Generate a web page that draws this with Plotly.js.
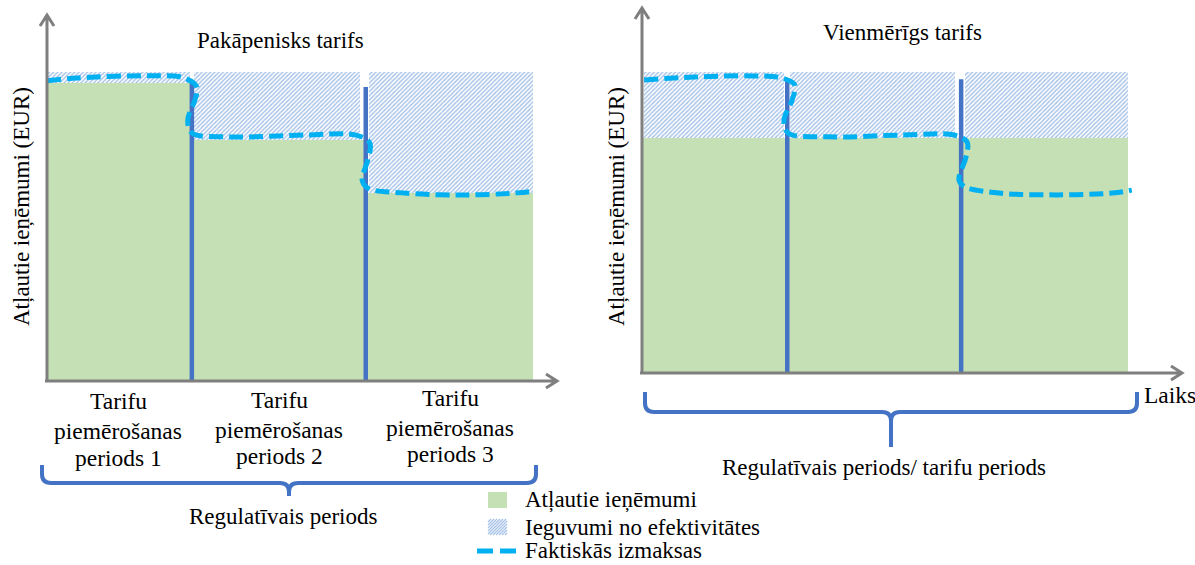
<!DOCTYPE html>
<html>
<head>
<meta charset="utf-8">
<script src="https://cdn.plot.ly/plotly-3.0.1.min.js"></script>
<style>html,body{margin:0;padding:0;background:#fff;}#chart{width:1195px;height:565px;}</style>
</head>
<body>
<div id="chart"></div>
<script>
// ---------- DATA ----------
// Left panel: "Pakāpenisks tarifs" (stepped tariff)
const leftTitle = "Pakāpenisks tarifs";
const leftPeriodStart = [0, 28.8, 62.9];
const leftPeriodEnd = [28.0, 62.2, 95.3];
const leftHatchStart = [0, 28.8, 63.1];
const leftHatchEnd = [28.0, 61.4, 95.3];
const leftAllowed = [81.4, 65.8, 51.4];          // Atļautie ieņēmumi
const leftCeiling = [84.4, 84.4, 84.4];          // top of efficiency gains
const leftDividerX = [28.4, 62.5];
const leftDividerTop = [81.4, 80.3];
const leftCostX = [0, 5.9, 20.8, 26.9, 29.4, 29.0, 27.6, 28.4, 35.9, 50.8, 60.6, 63.3, 62.9, 61.8, 62.9, 69.6, 81.0, 92.2, 95.5];
const leftCostY = [82.0, 82.8, 83.4, 82.8, 80.3, 76.8, 71.3, 67.8, 66.7, 67.2, 67.2, 65.0, 60.4, 54.9, 52.7, 51.4, 50.8, 51.4, 51.9];
const leftPeriodLabels = ["Tarifu<br>piemērošanas<br>periods 1", "Tarifu<br>piemērošanas<br>periods 2", "Tarifu<br>piemērošanas<br>periods 3"];
const leftBracketLabel = "Regulatīvais periods";

// Right panel: "Vienmērīgs tarifs" (flat tariff)
const rightTitle = "Vienmērīgs tarifs";
const rightPeriodStart = [0, 27.2, 59.4];
const rightPeriodEnd = [26.9, 59.1, 90.0];
const rightHatchStart = [0.4, 27.4, 59.8];
const rightHatchEnd = [26.3, 58.0, 90.0];
const rightAllowed = [64.4, 64.4, 64.4];
const rightCeiling = [82.5, 82.5, 82.5];
const rightDividerX = [26.9, 59.1];
const rightDividerTop = [80.5, 80.5];
const rightCostX = [0.4, 9.8, 20.4, 25.9, 28.3, 27.8, 26.3, 27.0, 34.4, 48.5, 57.8, 60.2, 60.0, 58.7, 59.8, 66.1, 76.7, 87.2, 90.7];
const rightCostY = [80.3, 81.1, 81.4, 80.8, 78.9, 74.8, 69.3, 65.8, 64.7, 65.2, 65.2, 63.3, 59.2, 52.9, 51.0, 49.3, 48.8, 49.3, 50.1];
const rightBracketLabel = "Regulatīvais periods/ tarifu periods";
const rightAxisEndLabel = "Laiks";

const yAxisLabel = "Atļautie ieņēmumi (EUR)";
const legendNames = ["Atļautie ieņēmumi", "Ieguvumi no efektivitātes", "Faktiskās izmaksas"];

// ---------- STYLE ----------
const W = 1195, H = 565;
const FONT = "'Liberation Serif', 'Times New Roman', serif";
const GREEN = "#c5e0b4", HATCH = "#a3c0e7", DARKBLUE = "#4472c4", CYAN = "#00b0f0", GRAY = "#7f7f7f";
const fx = px => px / W;
const fy = py => 1 - py / H;

function panelTraces(xa, ya, st, en, hs, he, allowed, ceiling, divX, divTop, cx, cy) {
  const tr = [];
  tr.push({
    type: "bar", xaxis: xa, yaxis: ya,
    x: st.map((s, i) => (s + en[i]) / 2), width: st.map((s, i) => en[i] - s),
    y: allowed, base: 0,
    marker: {color: GREEN, line: {width: 0}},
    name: legendNames[0], showlegend: false, hoverinfo: "skip"
  });
  tr.push({
    type: "bar", xaxis: xa, yaxis: ya,
    x: hs.map((s, i) => (s + he[i]) / 2), width: hs.map((s, i) => he[i] - s),
    y: ceiling.map((c, i) => c - allowed[i]), base: allowed,
    marker: {color: "#ffffff", line: {width: 0},
      pattern: {shape: "/", fgcolor: HATCH, bgcolor: "#ffffff", size: 3, solidity: 0.45}},
    name: legendNames[1], showlegend: false, hoverinfo: "skip"
  });
  divX.forEach((d, i) => tr.push({
    type: "scatter", mode: "lines", xaxis: xa, yaxis: ya,
    x: [d, d], y: [0, divTop[i]],
    line: {color: DARKBLUE, width: 4.5}, showlegend: false, hoverinfo: "skip"
  }));
  tr.push({
    type: "scatter", mode: "lines", xaxis: xa, yaxis: ya,
    x: cx, y: cy,
    line: {color: CYAN, width: 5, dash: "14px,6px", shape: "spline", smoothing: 1},
    name: legendNames[2], showlegend: false, hoverinfo: "skip"
  });
  return tr;
}

const data = [].concat(
  panelTraces("x", "y", leftPeriodStart, leftPeriodEnd, leftHatchStart, leftHatchEnd, leftAllowed, leftCeiling, leftDividerX, leftDividerTop, leftCostX, leftCostY),
  panelTraces("x2", "y2", rightPeriodStart, rightPeriodEnd, rightHatchStart, rightHatchEnd, rightAllowed, rightCeiling, rightDividerX, rightDividerTop, rightCostX, rightCostY)
);

// ---------- DECORATIONS ----------
function P(x, y) { return fx(x).toFixed(5) + "," + fy(y).toFixed(5); }
function brace(x1, x2, xm, yt, yb, ys) {
  const r = 9;
  return "M" + P(x1, yt) + " L" + P(x1, yb - r) + " Q" + P(x1, yb) + " " + P(x1 + r, yb) +
    " L" + P(xm - r, yb) + " Q" + P(xm, yb) + " " + P(xm, yb + r) + " L" + P(xm, ys) +
    " M" + P(xm, yb + r) + " Q" + P(xm, yb) + " " + P(xm + r, yb) +
    " L" + P(x2 - r, yb) + " Q" + P(x2, yb) + " " + P(x2, yb - r) + " L" + P(x2, yt);
}
function axisArrow(x1, y1, x2, y2, dir) {
  let p = "M" + P(x1, y1) + " L" + P(x2, y2);
  if (dir === "up") p += " M" + P(x2 - 7, y2 + 11) + " L" + P(x2, y2) + " L" + P(x2 + 7, y2 + 11);
  else p += " M" + P(x2 - 11, y2 - 7) + " L" + P(x2, y2) + " L" + P(x2 - 11, y2 + 7);
  return p;
}
function hatchSwatch(x0, y0, x1, y1, step) {
  const h = y1 - y0;
  let p = "";
  for (let k = -h; k < (x1 - x0); k += step) {
    let sx = x0 + k, sy = y1, ex = x0 + k + h, ey = y0;
    if (sx < x0) { sy = y1 - (x0 - sx); sx = x0; }
    if (ex > x1) { ey = y0 + (ex - x1); ex = x1; }
    p += "M" + P(sx, sy) + " L" + P(ex, ey) + " ";
  }
  return p;
}
const legY = [500, 527, 550];
const shapes = [
  {type: "path", xref: "paper", yref: "paper", path: axisArrow(47, 382, 47, 15, "up"), line: {color: GRAY, width: 3}},
  {type: "path", xref: "paper", yref: "paper", path: axisArrow(45, 381, 557, 381, "right"), line: {color: GRAY, width: 3}},
  {type: "path", xref: "paper", yref: "paper", path: axisArrow(642, 374, 642, 8, "up"), line: {color: GRAY, width: 3}},
  {type: "path", xref: "paper", yref: "paper", path: axisArrow(640, 373, 1182, 373, "right"), line: {color: GRAY, width: 3}},
  {type: "path", xref: "paper", yref: "paper", path: brace(42, 536, 289, 465, 483, 496), line: {color: DARKBLUE, width: 4}},
  {type: "path", xref: "paper", yref: "paper", path: brace(645, 1137, 891, 392, 412, 447), line: {color: DARKBLUE, width: 4}},
  // legend swatches
  {type: "rect", xref: "paper", yref: "paper", x0: fx(488), x1: fx(507), y0: fy(legY[0] + 8), y1: fy(legY[0] - 8), fillcolor: GREEN, line: {width: 0}},
  {type: "path", xref: "paper", yref: "paper", path: hatchSwatch(488, legY[1] - 8, 507, legY[1] + 8, 3), line: {color: HATCH, width: 1.2}},
  {type: "line", xref: "paper", yref: "paper", x0: fx(477), x1: fx(516), y0: fy(legY[2] + 1), y1: fy(legY[2] + 1), line: {color: CYAN, width: 5, dash: "16px,7px"}}
];

const txt = (text, x, y, size, extra) => Object.assign({
  text: text, xref: "paper", yref: "paper", x: fx(x), y: fy(y),
  xanchor: "center", yanchor: "middle", showarrow: false,
  font: {family: FONT, size: size, color: "#000"}
}, extra || {});

const annotations = [
  txt(leftTitle, 280, 40, 23),
  txt(rightTitle, 902, 32, 23),
  txt(yAxisLabel, 22, 207, 23, {textangle: -90}),
  txt(yAxisLabel, 617, 207, 23, {textangle: -90}),
  txt(leftBracketLabel, 283, 516, 23),
  txt(rightBracketLabel, 884, 467, 23),
  txt(rightAxisEndLabel, 1142, 395, 23.5, {xanchor: "left"}),
  txt(legendNames[0], 523, legY[0], 23, {xanchor: "left"}),
  txt(legendNames[1], 523, legY[1], 23, {xanchor: "left"}),
  txt(legendNames[2], 523, legY[2], 23, {xanchor: "left"})
];
// period labels, one line per annotation, centred on each period (data x)
const labelY = [[401, 431, 458], [400, 430, 456], [398, 428, 454]];
leftPeriodLabels.forEach((lab, i) => {
  lab.split("<br>").forEach((line, j) => {
    annotations.push({
      text: line, xref: "x", yref: "paper",
      x: (leftPeriodStart[i] + leftPeriodEnd[i]) / 2, y: fy(labelY[i][j]),
      xanchor: "center", yanchor: "middle", showarrow: false,
      font: {family: FONT, size: 23.5, color: "#000"}
    });
  });
});

const ax = (dom) => ({domain: dom, range: [0, 100], visible: false, fixedrange: true});
const layout = {
  width: W, height: H,
  margin: {l: 0, r: 0, t: 0, b: 0},
  paper_bgcolor: "#fff", plot_bgcolor: "rgba(0,0,0,0)",
  barmode: "overlay", bargap: 0,
  showlegend: false,
  xaxis: Object.assign(ax([fx(47), fx(557)]), {anchor: "y"}),
  yaxis: Object.assign(ax([fy(381), fy(15)]), {anchor: "x"}),
  xaxis2: Object.assign(ax([fx(642), fx(1182)]), {anchor: "y2"}),
  yaxis2: Object.assign(ax([fy(373), fy(8)]), {anchor: "x2"}),
  shapes: shapes,
  annotations: annotations
};

Plotly.newPlot("chart", data, layout, {staticPlot: true, displayModeBar: false});
</script>
</body>
</html>
